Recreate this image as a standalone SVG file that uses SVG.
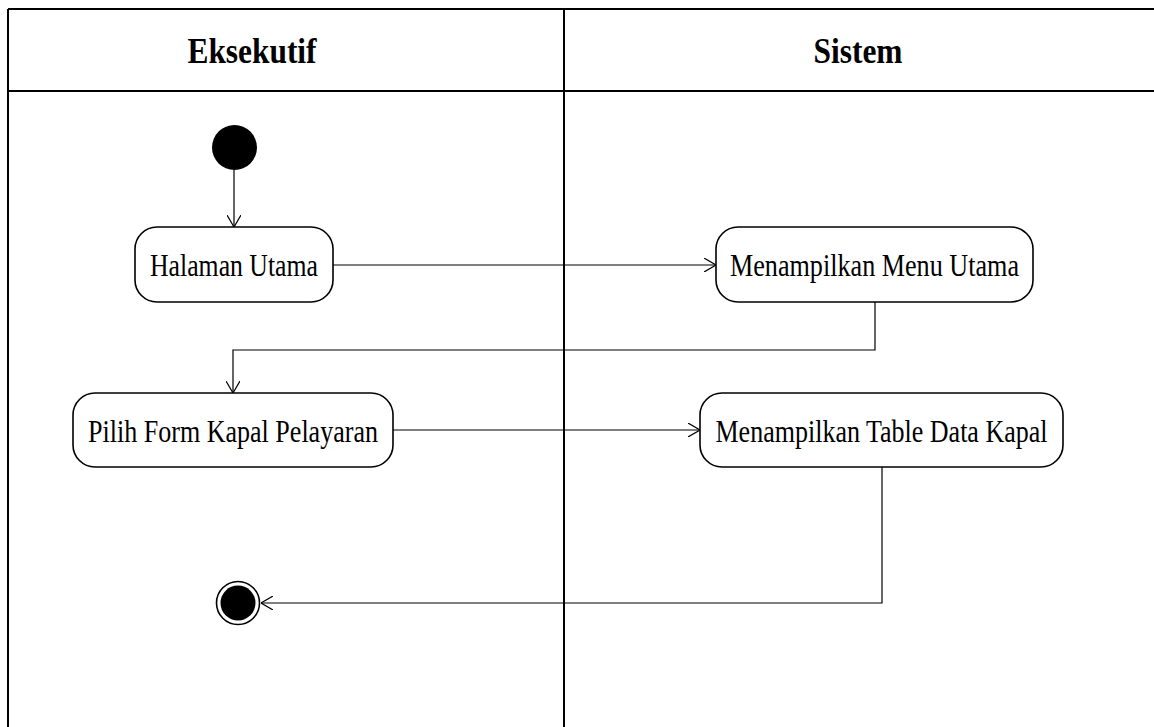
<svg xmlns="http://www.w3.org/2000/svg" width="1154" height="727" viewBox="0 0 1154 727">
<style>
.lane{stroke:#000;stroke-width:2;fill:none}
.hdr{font-family:"Liberation Serif",serif;font-weight:bold;font-size:35px;text-anchor:middle;fill:#000}
.act{fill:#fff;stroke:#000;stroke-width:1.6}
.lbl{font-family:"Liberation Serif",serif;font-size:32px;text-anchor:middle;fill:#000}
.con{stroke:#000;stroke-width:1.2;fill:none;marker-end:url(#arr)}
</style>
<defs>
<marker id="arr" viewBox="0 0 12 14" refX="12" refY="7" markerWidth="12" markerHeight="14" markerUnits="userSpaceOnUse" orient="auto">
<path d="M0,0 L12,7 L0,14" fill="none" stroke="#000" stroke-width="1.2"/>
</marker>
</defs>
<rect width="1154" height="727" fill="#fff"/>
<g id="lanes">
<line class="lane" x1="8" y1="9" x2="1154" y2="9"/>
<line class="lane" x1="8" y1="91" x2="1154" y2="91"/>
<line class="lane" x1="8" y1="9" x2="8" y2="727"/>
<line class="lane" x1="564" y1="9" x2="564" y2="727"/>
<text class="hdr" x="252" y="63" textLength="129" lengthAdjust="spacingAndGlyphs">Eksekutif</text>
<text class="hdr" x="858" y="63" textLength="89" lengthAdjust="spacingAndGlyphs">Sistem</text>
</g>
<g id="connectors">
<line class="con" x1="234" y1="170" x2="234" y2="227"/>
<line class="con" x1="333" y1="265" x2="716" y2="265"/>
<polyline class="con" points="875,302 875,350 233,350 233,393"/>
<line class="con" x1="393" y1="430" x2="700" y2="430"/>
<polyline class="con" points="882,467 882,603 261,603"/>
</g>
<g id="start"><circle cx="234.5" cy="147.5" r="22.5" fill="#000"/></g>
<g id="halaman-utama">
<rect class="act" x="135" y="227" width="198" height="75" rx="22"/>
<text class="lbl" x="234" y="276" textLength="168" lengthAdjust="spacingAndGlyphs">Halaman Utama</text>
</g>
<g id="menampilkan-menu-utama">
<rect class="act" x="716" y="227" width="317" height="75" rx="22"/>
<text class="lbl" x="874.5" y="276" textLength="289" lengthAdjust="spacingAndGlyphs">Menampilkan Menu Utama</text>
</g>
<g id="pilih-form">
<rect class="act" x="73" y="393" width="320" height="74" rx="22"/>
<text class="lbl" x="233" y="442" textLength="290" lengthAdjust="spacingAndGlyphs">Pilih Form Kapal Pelayaran</text>
</g>
<g id="menampilkan-table">
<rect class="act" x="700" y="393" width="363" height="74" rx="22"/>
<text class="lbl" x="881.5" y="442" textLength="332" lengthAdjust="spacingAndGlyphs">Menampilkan Table Data Kapal</text>
</g>
<g id="end">
<circle cx="238" cy="603" r="21.5" fill="#fff" stroke="#000" stroke-width="1.6"/>
<circle cx="238" cy="603" r="17.5" fill="#000"/>
</g>
</svg>
